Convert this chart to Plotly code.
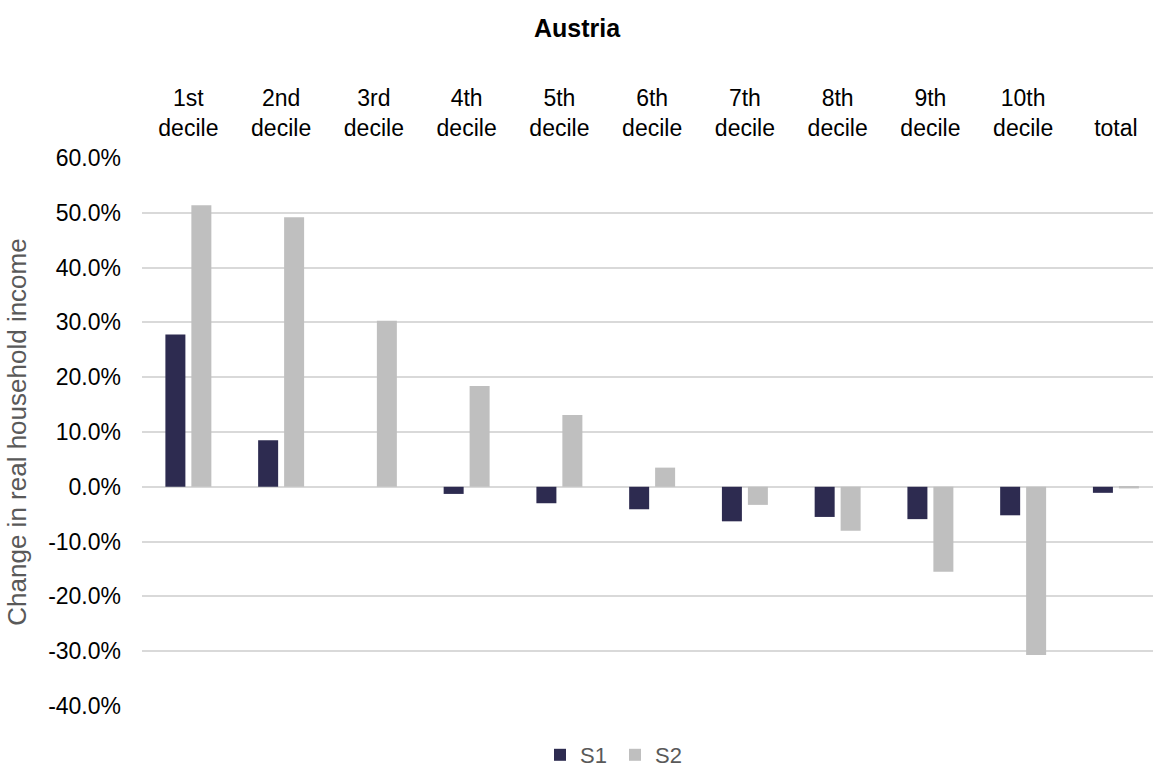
import plotly.graph_objects as go

# Change in real household income by income decile, two scenarios
categories = ["1st<br>decile", "2nd<br>decile", "3rd<br>decile", "4th<br>decile",
              "5th<br>decile", "6th<br>decile", "7th<br>decile", "8th<br>decile",
              "9th<br>decile", "10th<br>decile", "total"]
s1_values = [27.8, 8.5, 0.0, -1.3, -3.0, -4.1, -6.3, -5.5, -5.9, -5.2, -1.1]
s2_values = [51.4, 49.2, 30.3, 18.4, 13.1, 3.5, -3.3, -8.0, -15.5, -30.7, -0.3]
y_tick_values = [-40, -30, -20, -10, 0, 10, 20, 30, 40, 50, 60]
y_tick_labels = ["-40.0%", "-30.0%", "-20.0%", "-10.0%", "0.0%", "10.0%",
                 "20.0%", "30.0%", "40.0%", "50.0%", "60.0%"]

FONT = "Liberation Sans, Arial, sans-serif"
GRID = "#d9d9d9"

fig = go.Figure()
fig.add_trace(go.Bar(x=categories, y=s1_values, name="S1",
                     marker=dict(color="#2d2b50", line=dict(width=0))))
fig.add_trace(go.Bar(x=categories, y=s2_values, name="S2",
                     marker=dict(color="#bfbfbf", line=dict(width=0))))

fig.update_layout(
    width=1153, height=767,
    margin=dict(l=142, r=0, t=158, b=61),
    paper_bgcolor="white", plot_bgcolor="white",
    font=dict(family=FONT, size=23, color="#000000"),
    barmode="group", bargap=0.44, bargroupgap=0.23,
    title=dict(text="<b>Austria</b>", x=577 / 1153, xanchor="center",
               xref="container",
               y=1 - 28 / 767, yanchor="middle", yref="container",
               font=dict(family=FONT, size=25, color="#000000")),
    showlegend=True,
    legend=dict(orientation="h", x=615 / 1153, xanchor="center", xref="container",
                y=1 - 755 / 767, yanchor="middle", yref="container",
                font=dict(family=FONT, size=22, color="#595959"),
                itemwidth=30, entrywidth=30, tracegroupgap=0),
)

fig.update_xaxes(
    side="top", range=[-0.5, 10.4], showgrid=False, showline=False,
    ticks="", ticklabelstandoff=16, tickfont=dict(size=23, color="#000000"),
    fixedrange=True,
)
fig.update_yaxes(
    range=[-40, 60], tickvals=y_tick_values, ticktext=y_tick_labels,
    showgrid=True, gridcolor=GRID, gridwidth=1.5,
    zeroline=True, zerolinecolor=GRID, zerolinewidth=1.5,
    showline=False, ticks="", ticklabelstandoff=20,
    tickfont=dict(size=23, color="#000000"),
    title=dict(text="Change in real household income", standoff=14,
               font=dict(size=26, color="#595959")),
    fixedrange=True,
)

fig.write_html("out.html")
